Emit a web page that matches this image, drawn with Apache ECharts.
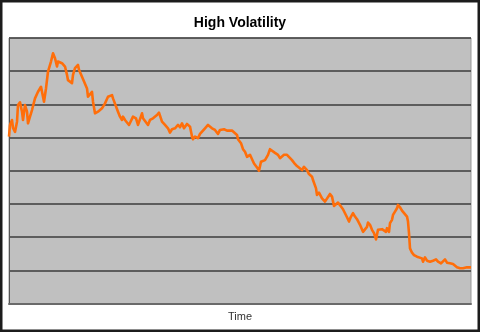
<!DOCTYPE html>
<html>
<head>
<meta charset="utf-8">
<script src="https://cdn.jsdelivr.net/npm/echarts@6/dist/echarts.min.js"></script>
<style>
  html, body { margin: 0; padding: 0; background: #fff; }
  #chart { width: 480px; height: 332px; }
</style>
</head>
<body>
<div id="chart"></div>
<script>
// Time steps and price level of the simulated series
const timeSteps = [0,1,3,4,6,8,9,11,13,14,16,18,19,21,23,26,29,32,33,35,37,39,42,44,46,48,49,51,53,54,56,58,59,61,63,64,66,69,70,73,75,78,79,81,83,84,86,88,89,93,96,99,101,103,104,106,109,111,113,114,116,118,120,122,124,127,129,130,133,134,136,139,141,144,148,150,
  153,156,159,161,163,166,169,171,173,175,178,179,181,183,184,186,189,191,193,196,199,201,203,206,208,209,211,213,215,218,220,223,225,228,229,232,234,236,238,241,243,245,248,250,252,254,256,259,261,263,266,269,271,273,275,278,280,283,285,288,290,293,295,298,300,303,
  304,307,308,310,313,314,316,318,321,323,325,327,329,332,334,336,338,340,342,344,346,348,351,354,356,358,359,361,363,365,367,369,370,373,375,377,378,380,381,383,384,386,388,389,391,393,395,398,399,400,401,403,405,408,410,413,414,416,418,421,424,427,429,432,434,436,438,441,444,446,448,451,454,456,458,460,462];
const levels = [50.3,53.8,55.3,52.9,51.7,54.8,59.8,60.6,57.8,55.3,59.8,57.8,54.3,56.3,58.3,61.8,63.8,65.3,63.8,60.8,64.8,69.9,72.9,75.4,73.9,71.4,72.9,73.4,72.4,72.9,71.4,68.9,67.3,67.9,66.4,68.9,70.9,71.9,70.4,68.3,67.9,64.8,62.3,61.8,63.8,60.8,57.3,56.8,57.8,58.8,60.3,62.3,61.8,62.8,61.8,61.3,57.8,56.3,55.3,56.3,55.3,55.8,53.8,53.3,56.3,55.8,53.8,53.3,57.3,55.8,55.3,53.8,55.3,55.8,56.8,57.5,
  54.8,53.8,52.8,51.5,52.5,52.8,53.8,53.1,54.3,52.8,54.1,54.3,53.3,50.3,49.5,50.3,49.8,51.1,50.8,52.8,53.8,53.5,52.8,52.3,51.8,51.1,52.3,51.8,52.5,52.1,52.5,52.1,52.1,50.8,49.5,48.3,46.5,45.7,44.2,44.8,44.2,42.2,41.0,40.0,42.7,42.2,43.2,44.8,46.5,46.0,45.4,44.8,43.8,43.8,44.8,44.8,44.2,43.2,42.4,41.4,41.7,40.2,41.2,40.2,39.0,38.2,
  37.2,34.7,32.7,33.4,31.7,32.2,30.7,31.2,33.0,32.2,29.4,30.0,30.4,29.2,28.4,27.2,26.0,24.7,26.2,27.2,26.2,25.4,23.7,21.6,21.2,23.1,24.4,23.7,22.2,21.2,19.3,22.2,22.7,22.4,22.2,21.6,22.7,21.6,24.2,25.2,26.7,27.7,28.7,29.7,29.0,28.0,27.4,26.2,24.7,21.2,16.6,15.3,14.6,14.1,13.6,13.6,12.6,13.9,12.9,12.6,12.9,13.3,12.6,12.1,12.6,13.3,12.3,12.1,11.9,11.3,10.9,10.6,10.6,10.3,10.9,11.1,10.9];

const seriesData = timeSteps.map((t, i) => [t, levels[i]]);

const chart = echarts.init(document.getElementById('chart'), null, { renderer: 'canvas' });

chart.setOption({
  animation: false,
  backgroundColor: '#ffffff',
  title: {
    text: 'High Volatility',
    left: 'center',
    top: 11,
    textStyle: {
      fontFamily: 'Liberation Sans, Arial, sans-serif',
      fontSize: 14,
      fontWeight: 'bold',
      color: '#000'
    }
  },
  graphic: [{
    type: 'rect',
    silent: true,
    z: 100,
    shape: { x: 1.2, y: 1.2, width: 477.6, height: 329.6 },
    style: { fill: 'none', stroke: '#1c1c1c', lineWidth: 2.6 }
  }],
  grid: {
    left: 9,
    right: 9,
    top: 38,
    bottom: 28.5,
    show: true,
    backgroundColor: '#c0c0c0',
    borderColor: '#999999',
    borderWidth: 1
  },
  xAxis: {
    type: 'value',
    min: 0,
    max: 462,
    name: 'Time',
    nameLocation: 'middle',
    nameGap: 8,
    nameTextStyle: {
      fontFamily: 'Liberation Sans, Arial, sans-serif',
      fontSize: 11,
      color: '#333'
    },
    axisLine: { show: true, lineStyle: { color: '#6a6a6a', width: 2 } },
    axisTick: { show: false },
    axisLabel: { show: false },
    splitLine: { show: false }
  },
  yAxis: {
    type: 'value',
    min: 0,
    max: 80,
    interval: 10,
    axisLine: { show: true, lineStyle: { color: '#555', width: 1 } },
    axisTick: { show: false },
    axisLabel: { show: false },
    splitLine: { show: true, lineStyle: { color: '#3c3c3c', width: 1.6 } }
  },
  series: [{
    type: 'line',
    data: seriesData,
    showSymbol: false,
    symbol: 'none',
    clip: true,
    lineStyle: { color: '#ff6e0a', width: 2.6, join: 'round' }
  }]
});
</script>
</body>
</html>
